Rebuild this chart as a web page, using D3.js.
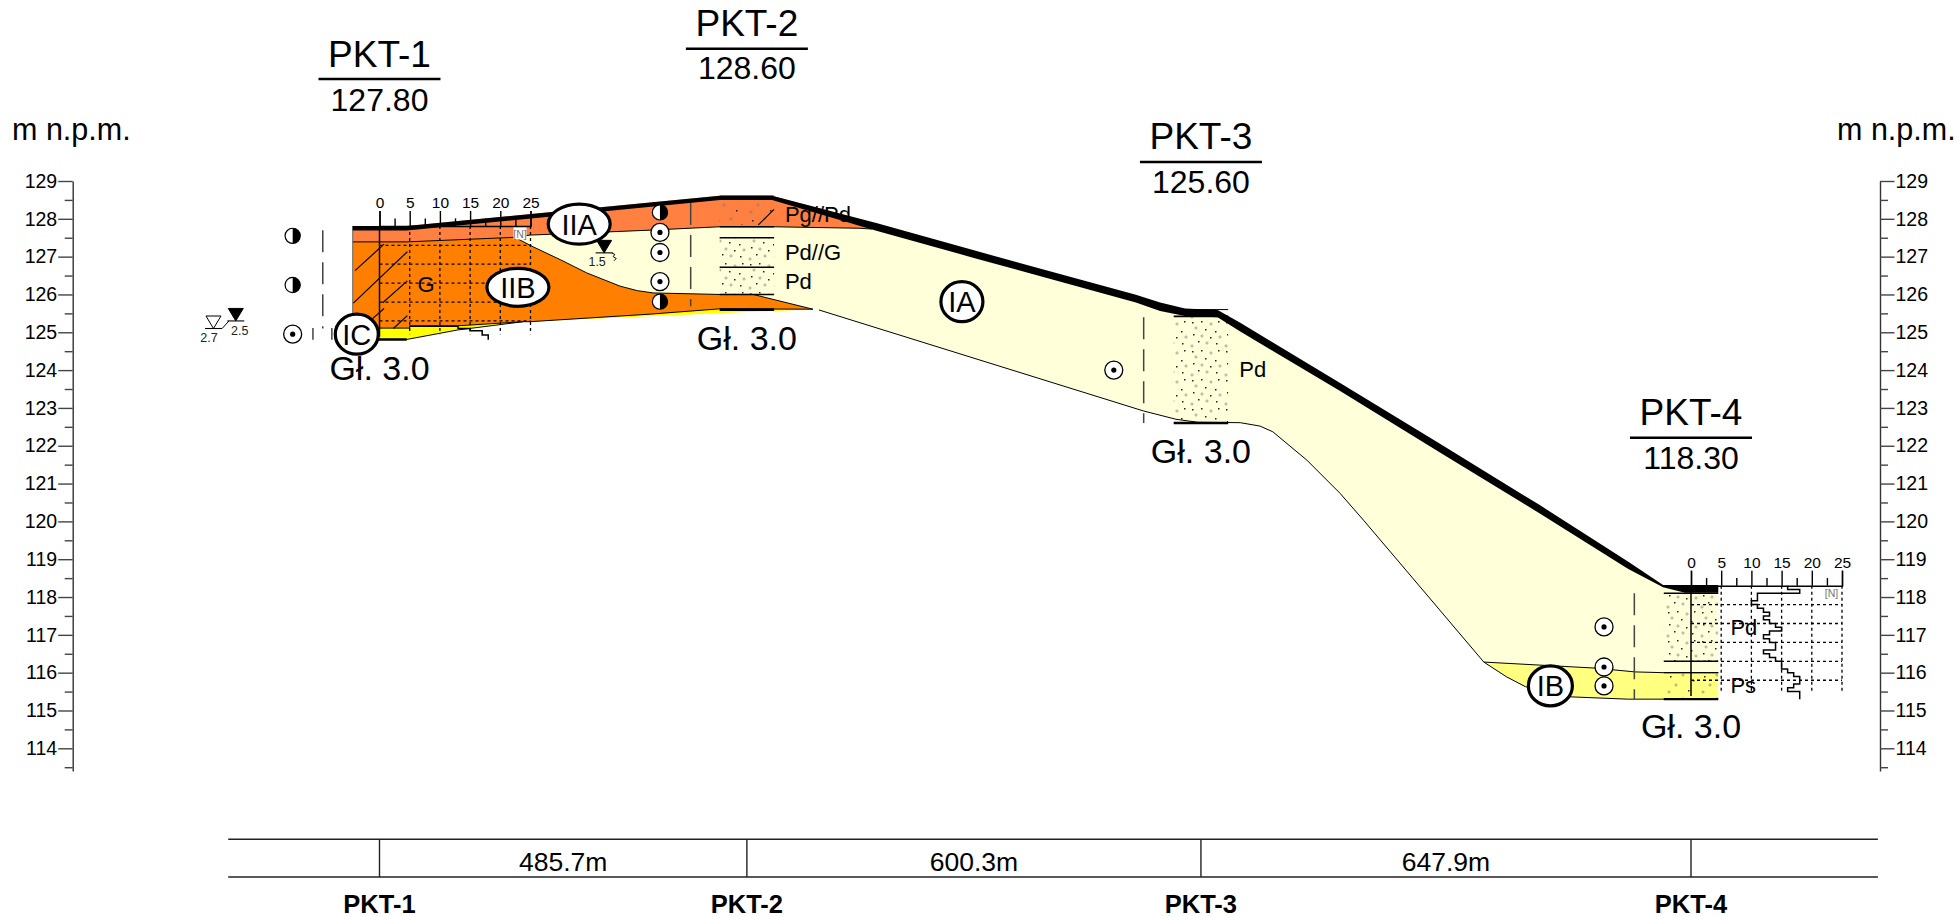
<!DOCTYPE html>
<html>
<head>
<meta charset="utf-8">
<script src="https://cdn.jsdelivr.net/npm/d3@7"></script>
<style>
  body { margin: 0; background: #fff; }
  text { font-family: "Liberation Sans", Arial, sans-serif; fill: #000; }
</style>
</head>
<body>
<svg id="chart" width="1957" height="917"></svg>
<script>
// boreholes
const holeNames = ["PKT-1", "PKT-2", "PKT-3", "PKT-4"];
const holeElev = [127.8, 128.6, 125.6, 118.3];
const holeDepth = [3.0, 3.0, 3.0, 3.0];
const spans = [485.7, 600.3, 647.9];
const holeDist = [0, 485.7, 1086, 1733.9];

// ground surface band [distance m, elevation m]
const surfaceTop = [[-35.4,127.81],[36,127.81],[450,128.61],[519,128.61],[658,127.88],[787,127.16],[1000,125.99],[1032,125.79],[1065,125.63],[1108,125.59],[1138,125.25],[1270,123.66],[1402,122.05],[1534,120.43],[1651,118.93],[1697,118.32],[1770,118.32]];
const surfaceBase = [[-35.4,127.69],[36,127.69],[450,128.50],[519,128.50],[658,127.68],[787,126.96],[1000,125.79],[1032,125.56],[1065,125.43],[1108,125.40],[1138,125.02],[1270,123.45],[1402,121.82],[1534,120.21],[1651,118.74],[1697,118.26],[1726,118.11],[1770,118.11]];

// layer boundaries
const iiaBase = [[-35.4,127.39],[36,127.39],[178,127.51],[199,127.57],[358,127.70],[450,127.79],[520,127.79],[635,127.75],[651,127.73]];
const iibTop = [[178,127.52],[203,127.26],[239,126.92],[274,126.57],[318,126.22],[341,126.10],[362,126.04],[450,126.0],[494,126.0],[573,125.61]];
const iaBase = [[581,125.59],[1010,122.92],[1053,122.70],[1082,122.62],[1138,122.61],[1164,122.52],[1181,122.37],[1226,121.62],[1270,120.74],[1301,120.03],[1349,118.90],[1460,116.28]];
const ibTop = [[1460,116.28],[1608,116.12],[1660,116.02],[1697,116.0],[1770,116.0]];
const ibBase = [[1770,115.3],[1650,115.30],[1575,115.36],[1515,115.63],[1490,115.89],[1460,116.28]];
const iibBase = [[-35.4,125.11],[40,125.11],[40,125.17],[103,125.17],[190,125.28],[199,125.28],[358,125.48],[450,125.62],[573,125.61]];
const icBase = [[190,125.28],[103,125.06],[36,124.81],[-35.4,124.81]];

// lines inside each borehole column
const holeLines = [
  [[124.81, 2.5]],
  [[128.6, 1], [127.79, 1.4], [127.5, 1.4], [126.72, 1.4], [126.0, 1.4], [125.6, 2.6]],
  [[125.6, 1], [125.42, 1.6], [122.6, 2.4]],
  [[118.1, 1.4], [116.3, 1.6], [116.0, 1.4], [115.3, 2.4]]
];
// sandy intervals [hole index, top, bottom, pattern]
const sandBands = [
  [1, 128.45, 127.85, "sparse"],
  [1, 127.5, 126.72, "stip"],
  [1, 126.72, 126.02, "stip"],
  [2, 125.42, 122.62, "stip"],
  [3, 118.1, 116.3, "stip"],
  [3, 116.0, 115.32, "sparse"]
];

// clay hatching segments [d1, e1, d2, e2]
const hatchSegs = [
  [-32.4,126.63,6,127.33],
  [-34.6,125.77,36.8,127.13],
  [4.2,125.78,36.8,126.36],
  [-10.3,125.34,6,125.63],
  [18.3,125.1,36.8,125.44],
  [500.8,127.84,521.6,128.25]
];

// sampling symbols [distance, elevation, type]
const symbols = [
  [-114.8,127.55,"half"],[-114.8,126.25,"half"],[-114.8,124.95,"dot"],
  [370.8,128.17,"half"],[370.8,127.64,"dot"],[370.8,127.11,"dot"],[370.8,126.34,"dot"],[370.8,125.81,"half"],
  [970.8,124.0,"dot"],
  [1618.9,117.21,"dot"],[1618.9,116.15,"dot"],[1618.9,115.65,"dot"]
];

// dashed sample lines [distance, top, bottom]
const sampleLines = [[-75,127.7,125.1],[411.4,128.42,125.69],[1010.3,125.4,122.6],[1659,118.1,115.3]];
const sampleStubs = [[-88,125.11,124.8],[-63,125.11,124.8]];

// layer labels [text, distance, elevation, rx, ry]
const layerTags = [
  ["IA",770,125.81,21,20],
  ["IIA",264,127.86,31,20],
  ["IIB",183,126.19,31,19],
  ["IC",-30,124.95,21.5,20],
  ["IB",1548,115.65,22,20]
];

// soil labels [text, distance, elevation]
const soilLabels = [
  ["G",61.5,126.07,"middle"],
  ["Pg//Pd",536,127.92,"start"],
  ["Pd//G",536,126.91,"start"],
  ["Pd",536,126.15,"start"],
  ["Pd",1136.6,123.82,"start"],
  ["Pd",1786,117.0,"start"],
  ["Ps",1786,115.46,"start"]
];

// water table
const waterMarks = [[-190,125.3,"2.5",true],[-219.5,125.1,"2.7",false],[297,127.1,"1.5",true]];

// penetration test N per 0.1 m of depth, PKT-4
const nPkt4 = [16,18,11,11,10,11,12,13,12,13,14,15,13,12,13,14,14,12,13,14,15,15,16,17,18,18,17,16,18,18];
// same, PKT-1, only the deep part shows [depth, N]
const nPkt1 = [[2.64,5],[2.64,13],[2.7,13],[2.7,15],[2.76,15],[2.76,17],[2.87,17],[2.87,18],[3.0,18]];
const nHoles = [0, 3];
const nTicks = [0,2.5,5,7.5,10,12.5,15,17.5,20,22.5,25];
const gridDepths = [0.5,1,1.5,2,2.5];

const elevTicks = d3.range(113.5, 129.01, 0.5);

const svg = d3.select("#chart");

const x = d3.scaleLinear().domain([0, 1733.9]).range([379.5, 1691]);
const y = d3.scaleLinear().domain([129, 113.4]).range([181, 771]);
const line = d3.line().x(d => x(d[0])).y(d => y(d[1]));
const poly = pts => line(pts) + "Z";

// stipple patterns
const defs = svg.append("defs");
function stipple(id, dots, w, h) {
  const p = defs.append("pattern").attr("id", id).attr("patternUnits", "userSpaceOnUse").attr("width", w).attr("height", h);
  dots.forEach(d => {
    if (d[2]) p.append("circle").attr("cx", d[0]).attr("cy", d[1]).attr("r", 1.1).attr("fill", "none").attr("stroke", "#777").attr("stroke-width", 0.6);
    else p.append("rect").attr("x", d[0]).attr("y", d[1]).attr("width", 1.5).attr("height", 1.5).attr("fill", "#222");
  });
}
stipple("stip", [[2,3,0],[11,2,0],[21,5,1],[28,2,0],[6,9,1],[15,10,0],[25,12,0],[3,15,0],[12,17,1],[20,18,0],[30,18,1],[8,22,0],[17,24,1],[26,24,0],[2,27,1]], 34, 29);
stipple("sparse", [[4,4,0],[17,3,1],[27,8,0],[10,13,1],[22,18,0],[3,20,1]], 34, 24);

// layers
const gLayers = svg.append("g");
gLayers.append("path").attr("d", poly(surfaceTop.concat(ibTop.slice().reverse(), iaBase.slice().reverse(), iibTop.slice().reverse()))).attr("fill", "#ffffd9");
gLayers.append("path").attr("d", poly(ibTop.concat(ibBase))).attr("fill", "#ffff80");
gLayers.append("path").attr("d", poly(iibBase.concat(icBase))).attr("fill", "#ffff00");
gLayers.append("path").attr("d", poly(iiaBase.slice(0, 3).concat(iibTop, iibBase.slice().reverse()))).attr("fill", "#ff8000");
gLayers.append("path").attr("d", poly(surfaceTop.filter(d => d[0] < 651).concat([[651,127.9]], iiaBase.slice().reverse()))).attr("fill", "#ff8040");

[iiaBase, iibTop, iaBase, ibTop, ibBase, iibBase, icBase].forEach(b => {
  gLayers.append("path").attr("d", line(b)).attr("fill", "none").attr("stroke", "#000").attr("stroke-width", 1);
});
gLayers.append("path").attr("d", line([[-35.4,127.81],[-35.4,125.11]])).attr("stroke", "#666").attr("stroke-width", 1);

// boreholes
const colHalf = 36;
gLayers.selectAll("rect.sand").data(sandBands).enter().append("rect").attr("class", "sand")
  .attr("x", d => x(holeDist[d[0]] - colHalf))
  .attr("y", d => y(d[1]))
  .attr("width", x(2 * colHalf) - x(0))
  .attr("height", d => y(d[2]) - y(d[1]))
  .attr("fill", d => `url(#${d[3]})`);

holeLines.forEach((ls, i) => {
  gLayers.selectAll(null).data(ls).enter().append("line")
    .attr("x1", x(holeDist[i] - colHalf))
    .attr("x2", x(holeDist[i] + colHalf))
    .attr("y1", d => y(d[0]))
    .attr("y2", d => y(d[0]))
    .attr("stroke", "#000")
    .attr("stroke-width", d => d[1]);
});

gLayers.selectAll("line.hatch").data(hatchSegs).enter().append("line").attr("class", "hatch")
  .attr("x1", d => x(d[0])).attr("y1", d => y(d[1]))
  .attr("x2", d => x(d[2])).attr("y2", d => y(d[3]))
  .attr("stroke", "#000").attr("stroke-width", 1.2);

// soil names
svg.append("g").selectAll("text").data(soilLabels).enter().append("text")
  .attr("x", d => x(d[1])).attr("y", d => y(d[2]))
  .attr("text-anchor", d => d[3]).attr("font-size", 22).text(d => d[0]);

// dashed sample lines
svg.append("g").selectAll("line").data(sampleLines).enter().append("line")
  .attr("x1", d => x(d[0])).attr("x2", d => x(d[0]))
  .attr("y1", d => y(d[1])).attr("y2", d => y(d[2]))
  .attr("stroke", "#444").attr("stroke-width", 1.5).attr("stroke-dasharray", "22 10");
svg.append("g").selectAll("line").data(sampleStubs).enter().append("line")
  .attr("x1", d => x(d[0])).attr("x2", d => x(d[0]))
  .attr("y1", d => y(d[1])).attr("y2", d => y(d[2]))
  .attr("stroke", "#444").attr("stroke-width", 1.5);

// N plots
const nWidth = 151;
nHoles.forEach(h => {
  const x0 = x(holeDist[h]);
  const top = holeElev[h] + (h === 0 ? 0.01 : 0);
  const nx = d3.scaleLinear().domain([0, 25]).range([x0, x0 + nWidth]);
  const g = svg.append("g");

  // grid
  nTicks.filter(t => t % 5 === 0 && t > 0).forEach(t => {
    g.append("line").attr("x1", nx(t)).attr("x2", nx(t)).attr("y1", y(top)).attr("y2", y(holeElev[h] - 2.85))
      .attr("stroke", "#000").attr("stroke-width", 1.3).attr("stroke-dasharray", "3 3");
  });
  gridDepths.forEach(dp => {
    g.append("line").attr("x1", nx(0)).attr("x2", nx(25)).attr("y1", y(holeElev[h] - dp)).attr("y2", y(holeElev[h] - dp))
      .attr("stroke", "#000").attr("stroke-width", 1.3).attr("stroke-dasharray", "3 3");
  });
  g.append("line").attr("x1", nx(0)).attr("x2", nx(0)).attr("y1", y(top)).attr("y2", y(holeElev[h] - 2.92))
    .attr("stroke", "#000").attr("stroke-width", 1.5);

  // axis on top of the plot
  const ax = d3.axisTop(nx).tickValues(nTicks).tickSize(15).tickPadding(3)
    .tickFormat(d => d % 5 === 0 ? d : "");
  const gAx = g.append("g").attr("transform", `translate(0,${y(top)})`).call(ax);
  gAx.select(".domain").attr("stroke", "#000").attr("stroke-width", 1.4);
  gAx.selectAll(".tick line").attr("stroke", "#000").attr("stroke-width", 1.4)
    .attr("y2", d => d % 5 === 0 ? -15 : -7.6);
  gAx.selectAll(".tick text").attr("font-size", 15.5).attr("font-family", '"Liberation Sans"').attr("fill", "#000");

  // N steps
  let pts;
  if (h === 3) {
    pts = [];
    nPkt4.forEach((n, i) => { pts.push([i * 0.1, n], [(i + 1) * 0.1, n]); });
  } else {
    pts = nPkt1;
  }
  g.append("path")
    .attr("d", d3.line().x(d => nx(d[1])).y(d => y(holeElev[h] - d[0]))(pts))
    .attr("fill", "none").attr("stroke", "#000").attr("stroke-width", 1.5);

  // [N] flag
  const flagW = 13, flagH = 12;
  const fy = y(top) + 1.5;
  g.append("rect").attr("x", nx(25) - flagW - 4).attr("y", fy).attr("width", flagW).attr("height", flagH).attr("fill", "#fff");
  g.append("text").attr("x", nx(25) - flagW / 2 - 4).attr("y", fy + 10).attr("text-anchor", "middle")
    .attr("font-size", 10.5).style("fill", "#777").text("[N]");
});

// ground surface band
svg.append("path").attr("d", poly(surfaceTop.concat(surfaceBase.slice().reverse()))).attr("fill", "#000");

// symbols
const gSym = svg.append("g");
symbols.forEach(s => {
  const cx = x(s[0]), cy = y(s[1]);
  if (s[2] === "dot") {
    gSym.append("circle").attr("cx", cx).attr("cy", cy).attr("r", 9).attr("fill", "#fff").attr("stroke", "#000").attr("stroke-width", 1.3);
    gSym.append("circle").attr("cx", cx).attr("cy", cy).attr("r", 2.6).attr("fill", "#000");
  } else {
    gSym.append("circle").attr("cx", cx).attr("cy", cy).attr("r", 7.6).attr("fill", "#fff").attr("stroke", "#000").attr("stroke-width", 1.2);
    gSym.append("path").attr("d", d3.arc()({ innerRadius: 0, outerRadius: 7.6, startAngle: 0, endAngle: Math.PI }))
      .attr("transform", `translate(${cx},${cy})`).attr("fill", "#000");
  }
});

// water table marks
const gWater = svg.append("g");
waterMarks.forEach(w => {
  const cx = x(w[0]), cy = y(w[1]);
  gWater.append("path").attr("d", `M${cx - 7.5},${cy - 12.5}H${cx + 7.5}L${cx},${cy}Z`)
    .attr("fill", w[3] ? "#000" : "#fff").attr("stroke", "#000").attr("stroke-width", 1);
  gWater.append("line").attr("x1", cx - 8.5).attr("x2", cx + 8.5).attr("y1", cy).attr("y2", cy).attr("stroke", "#000").attr("stroke-width", 1.1);
  const below = w[2] === "2.5" ? 14.5 : 13.5;
  gWater.append("text").attr("x", cx + (w[2] === "2.5" ? 4 : w[2] === "2.7" ? -4.5 : -7)).attr("y", cy + below)
    .attr("text-anchor", "middle").attr("font-size", 12.5).style("fill", "#222").text(w[2]);
});
// link between the two PKT-1 water levels
gWater.append("path").attr("d", line([[-208,125.1],[-199,125.3]])).attr("fill", "none").attr("stroke", "#000").attr("stroke-width", 1);
// seepage squiggle at PKT-2
gWater.append("path").attr("d", line([[307,127.1],[311,127.06],[309,127.0],[313,126.95],[310,126.89]])).attr("fill", "none").attr("stroke", "#000").attr("stroke-width", 1);

// layer tags
const gTags = svg.append("g");
layerTags.forEach(t => {
  gTags.append("ellipse").attr("cx", x(t[1])).attr("cy", y(t[2])).attr("rx", t[3]).attr("ry", t[4])
    .attr("fill", "#fff").attr("stroke", "#000").attr("stroke-width", 3.2);
  gTags.append("text").attr("x", x(t[1])).attr("y", y(t[2]) + 10.5).attr("text-anchor", "middle")
    .attr("font-size", 29).text(t[0]);
});

// borehole headers
const titleBase = [66.7, 36, 149, 425];
const ruleY = [79, 48.7, 162, 437.7];
const valueBase = [110.7, 79, 193, 469];
const depthBase = [380, 350, 463, 738];
holeNames.forEach((name, i) => {
  const cx = x(holeDist[i]);
  svg.append("text").attr("x", cx).attr("y", titleBase[i]).attr("text-anchor", "middle").attr("font-size", 37).text(name);
  svg.append("line").attr("x1", cx - 61).attr("x2", cx + 61).attr("y1", ruleY[i]).attr("y2", ruleY[i]).attr("stroke", "#000").attr("stroke-width", 2.6);
  svg.append("text").attr("x", cx).attr("y", valueBase[i]).attr("text-anchor", "middle").attr("font-size", 32).text(holeElev[i].toFixed(2));
  svg.append("text").attr("x", cx).attr("y", depthBase[i]).attr("text-anchor", "middle").attr("font-size", 34).text("Gł. " + holeDepth[i].toFixed(1));
});

// elevation axes
function styleAxis(g, side) {
  g.select(".domain").attr("stroke", "#333").attr("stroke-width", 1.4);
  g.selectAll(".tick line").attr("stroke", "#444").attr("stroke-width", 1.4)
    .attr("x2", d => side * (d % 1 === 0 ? 14.5 : 8));
  g.selectAll(".tick text").attr("font-size", 19.5).attr("font-family", '"Liberation Sans"').attr("fill", "#000");
}
const yFmt = d => d % 1 === 0 ? d : "";
svg.append("g").attr("transform", "translate(72.7,0)")
  .call(d3.axisLeft(y).tickValues(elevTicks).tickSize(14.5).tickPadding(1).tickFormat(yFmt).tickSizeOuter(0))
  .call(g => styleAxis(g, -1));
svg.append("g").attr("transform", "translate(1880,0)")
  .call(d3.axisRight(y).tickValues(elevTicks).tickSize(14.5).tickPadding(1).tickFormat(yFmt).tickSizeOuter(0))
  .call(g => styleAxis(g, 1));

svg.append("text").attr("x", 12).attr("y", 140).attr("font-size", 30.5).text("m n.p.m.");
svg.append("text").attr("x", 1837).attr("y", 140).attr("font-size", 30.5).text("m n.p.m.");

// distance table
const tabLeft = -200, tabRight = 1981, tabTop = 839.3, tabBottom = 877;
[tabTop, tabBottom].forEach(yy => {
  svg.append("line").attr("x1", x(tabLeft)).attr("x2", x(tabRight)).attr("y1", yy).attr("y2", yy).attr("stroke", "#222").attr("stroke-width", 1.5);
});
holeDist.forEach((d, i) => {
  svg.append("line").attr("x1", x(d)).attr("x2", x(d)).attr("y1", tabTop).attr("y2", tabBottom).attr("stroke", "#222").attr("stroke-width", 1.4);
  svg.append("text").attr("x", x(d)).attr("y", 912.7).attr("text-anchor", "middle").attr("font-size", 25.5).attr("font-weight", "bold").text(holeNames[i]);
});
spans.forEach((s, i) => {
  svg.append("text").attr("x", x((holeDist[i] + holeDist[i + 1]) / 2)).attr("y", 870.7).attr("text-anchor", "middle").attr("font-size", 26.5).text(s.toFixed(1) + "m");
});
</script>
</body>
</html>
